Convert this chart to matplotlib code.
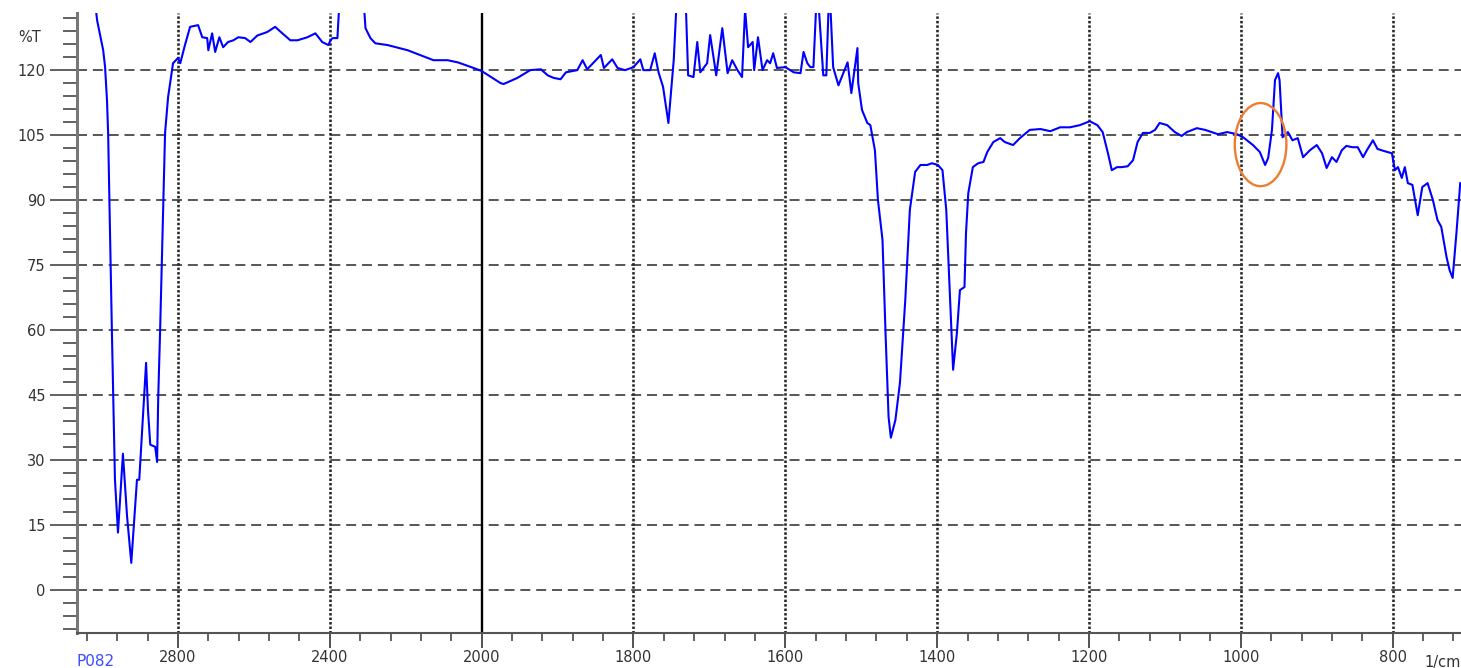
import numpy as np
import matplotlib
matplotlib.use("Agg")
import matplotlib.pyplot as plt
from matplotlib.patches import Ellipse

# IR spectrum, wavenumber (1/cm) vs transmittance (%T)
wavenumber = [3066, 3024, 3013, 2997, 2992, 2987, 2984, 2979, 2974, 2966, 2958,
              2945, 2934, 2923, 2908, 2902, 2884, 2879, 2873, 2860, 2855, 2852,
              2847, 2834, 2826, 2813, 2800, 2794, 2781, 2768, 2747, 2736, 2723,
              2720, 2710, 2702, 2691, 2681, 2668, 2654, 2641, 2623, 2609, 2591,
              2565, 2544, 2525, 2504, 2485, 2459, 2438, 2420, 2404, 2398, 2393,
              2380, 2372, 2365, 2320, 2314, 2306, 2293, 2280, 2248, 2195, 2127,
              2090, 2063, 2021, 2000, 1975, 1971, 1953, 1936, 1922, 1913, 1905,
              1896, 1889, 1874, 1867, 1861, 1843, 1839, 1828, 1821, 1811, 1800,
              1791, 1787, 1778, 1772, 1767, 1761, 1754, 1747, 1742, 1732, 1728,
              1721, 1716, 1712, 1703, 1699, 1691, 1683, 1676, 1670, 1663, 1657,
              1653, 1649, 1643, 1641, 1636, 1630, 1624, 1620, 1616, 1611, 1600,
              1589, 1580, 1576, 1571, 1567, 1563, 1558, 1550, 1546, 1542, 1537,
              1530, 1518, 1513, 1505, 1504, 1499, 1492, 1488, 1482, 1478, 1472,
              1468, 1464, 1461, 1455, 1449, 1442, 1436, 1429, 1422, 1413, 1407,
              1399, 1393, 1388, 1383, 1379, 1374, 1370, 1364, 1362, 1359, 1353,
              1346, 1339, 1334, 1326, 1317, 1311, 1300, 1291, 1278, 1264, 1251,
              1238, 1225, 1212, 1199, 1189, 1182, 1175, 1170, 1163, 1157, 1149,
              1142, 1136, 1129, 1120, 1113, 1107, 1097, 1087, 1078, 1071, 1058,
              1047, 1030, 1018, 1005, 997, 984, 975, 968, 964, 959, 955, 951,
              949, 945, 938, 932, 925, 918, 909, 900, 893, 887, 880, 874, 867,
              861, 853, 846, 839, 834, 826, 820, 811, 801, 797, 793, 788, 784,
              780, 774, 767, 761, 754, 747, 741, 736, 729, 725, 721, 716, 711]
transmittance = [145, 140, 131.5, 124.6, 120.7, 113, 105.5, 82.4, 59.3, 25.4, 13.2,
                 31.4, 16.8, 6.2, 25.4, 25.4, 52.4, 41.5, 33.5, 33, 29.5, 44.5,
                 60, 105.5, 113.8, 121.6, 122.8, 121.6, 126, 130, 130.4, 127.6, 127.4,
                 124.6, 128.5, 124.2, 127.6, 125.3, 126.5, 126.9, 127.6, 127.4, 126.5, 128,
                 128.8, 130, 128.5, 126.9, 126.9, 127.6, 128.5, 126.5, 125.8, 126.9, 127.4,
                 127.4, 140, 145, 145, 140, 129.7, 127.4, 126.2, 125.8, 124.6, 122.3,
                 122.3, 121.8, 120.5, 119.8, 117, 116.8, 118.2, 120, 120.2, 118.8, 118.2,
                 117.9, 119.5, 120, 122.3, 120.2, 123.5, 120.5, 122.5, 120.5, 120, 120.7,
                 122.5, 120, 120, 123.9, 119.5, 116.1, 107.8, 122.3, 140, 140, 118.8,
                 118.4, 126.5, 119.5, 121.6, 128.1, 118.8, 129.7, 119.3, 122.3, 120, 118.4,
                 134, 125.3, 126.5, 120, 127.6, 120, 122.3, 121.6, 123.9, 120.5, 120.7,
                 119.5, 119.3, 124.2, 121.6, 120.7, 120.7, 140, 118.8, 118.8, 140, 120.7,
                 116.5, 121.8, 114.7, 125.1, 117, 110.8, 107.8, 107.3, 101.5, 90, 80.8,
                 59.3, 39.9, 35.1, 39.2, 47.8, 66.9, 87.7, 96.5, 98.1, 98.1, 98.5,
                 98.1, 96.9, 87.7, 66.9, 50.8, 59.3, 69.2, 69.9, 82.4, 91.6, 97.6,
                 98.5, 98.8, 101.1, 103.4, 104.3, 103.4, 102.7, 104.3, 106.2, 106.4, 105.9,
                 106.8, 106.8, 107.3, 108.2, 107.3, 105.7, 100.8, 96.9, 97.6, 97.6, 97.8,
                 99.2, 103.4, 105.5, 105.5, 106.2, 107.8, 107.3, 105.7, 104.8, 105.7, 106.6,
                 106.2, 105.2, 105.7, 105.2, 104.5, 102.7, 101.1, 98.1, 99.7, 106.2, 117.7, 119.3,
                 117.7, 104.5, 105.7, 103.8, 104.3, 99.9, 101.5, 102.7, 100.8, 97.4, 99.9, 98.8, 101.5,
                 102.5, 102.2, 102.2, 99.9, 101.5, 103.8, 101.8, 101.3, 100.8, 96.9, 97.6, 95.1, 97.6,
                 93.9, 93.5, 86.5, 93, 93.9, 90, 85.4, 83.8, 76.8, 73.8, 72, 82.4, 93.9]

major_x = [2800, 2400, 2000, 1800, 1600, 1400, 1200, 1000, 800]
major_y = [0, 15, 30, 45, 60, 75, 90, 105, 120]


def fwd(w):
    # region above 2000 1/cm is drawn at half scale
    w = np.asarray(w, dtype=float)
    return np.where(w > 2000, 2000 + (w - 2000) / 2.0, w)


def inv(p):
    p = np.asarray(p, dtype=float)
    return np.where(p > 2000, 2000 + (p - 2000) * 2.0, p)


fig = plt.figure(figsize=(14.61, 6.68), dpi=100)
ax = fig.add_axes([77 / 1461, 35 / 668, 1384 / 1461, 620 / 668])
ax.set_xscale('function', functions=(fwd, inv))
ax.set_xlim(3066, 710)
ax.set_ylim(-10, 133.2)

# grid
for yv in major_y:
    ax.axhline(yv, color='#3a3a3a', lw=1.2, dashes=(6, 3.5), zorder=1)
for xv in major_x:
    if xv == 2000:
        ax.axvline(xv, color='black', lw=1.7, zorder=1)
    else:
        ax.axvline(xv, color='#2a2a2a', lw=1.9, dashes=(0.95, 0.75), zorder=1)

ax.plot(wavenumber, transmittance, color='#0000ff', lw=1.5, zorder=3)

# highlighted band
ell = Ellipse((974, 102.8), 68, 19.2, fill=False, edgecolor='#ed7d31', lw=1.7, zorder=4)
ax.add_patch(ell)

minor_x = [w for w in range(3040, 2000, -80) if w not in major_x]
minor_x += [w for w in range(1960, 700, -40) if w not in major_x]
minor_y = [v for v in range(-9, 133, 3) if v not in major_y]

ax.set_xticks(major_x)
ax.set_xticklabels([str(v) for v in major_x])
ax.set_xticks(minor_x, minor=True)
ax.set_yticks(major_y)
ax.set_yticklabels([str(v) for v in major_y])
ax.set_yticks(minor_y, minor=True)

ax.tick_params(axis='y', which='major', length=19.5, width=1.3, color='#555555',
               pad=3, labelsize=10.5, labelcolor='#333333')
ax.tick_params(axis='y', which='minor', length=10, width=1.3, color='#555555')
ax.tick_params(axis='x', which='major', length=11, width=1.3, color='#444444',
               pad=1, labelsize=10.5, labelcolor='#333333')
ax.tick_params(axis='x', which='minor', length=6, width=1.3, color='#555555')

for side in ['top', 'right']:
    ax.spines[side].set_visible(False)
ax.spines['left'].set_color('#777777')
ax.spines['left'].set_linewidth(2.2)
ax.spines['bottom'].set_color('#555555')
ax.spines['bottom'].set_linewidth(1.5)

fig.text(18 / 1461, 1 - 37 / 668, '%T', fontsize=10.5, color='#333333', va='center')
fig.text(77 / 1461, 1 - 662 / 668, 'P082', fontsize=11, color='#3a4cff', va='center')
fig.text(1424 / 1461, 1 - 663 / 668, '1/cm', fontsize=10.5, color='#333333', va='center')

fig.savefig('out.png', dpi=100)
